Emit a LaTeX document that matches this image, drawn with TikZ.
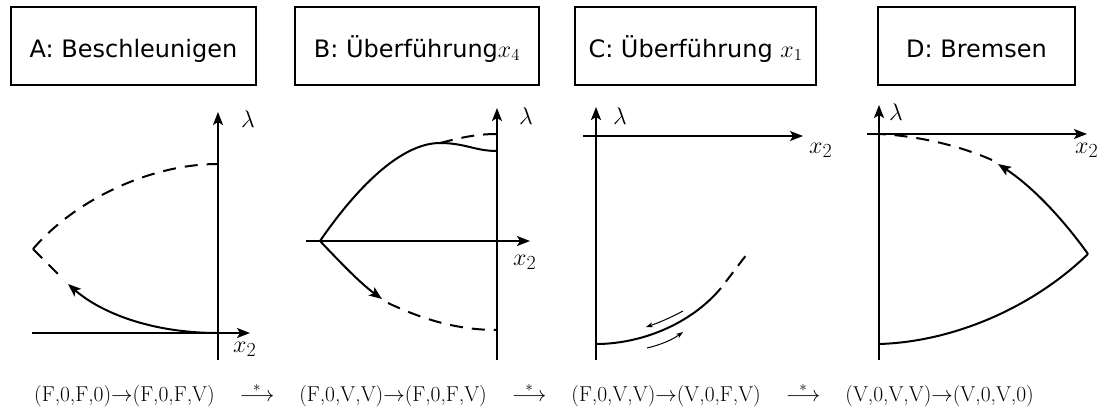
\RequirePackage{fix-cm}
\documentclass[tikz,border=0pt]{standalone}
\usepackage{fontspec}
\newfontfamily\dvs{DejaVu Sans}
\usetikzlibrary{arrows.meta}
\begin{document}
\begin{tikzpicture}[x=1pt,y=-1pt,
  axis/.style={line width=2pt,-{Stealth[length=13pt,width=10pt,inset=3pt]}},
  curve/.style={line width=2pt},
  dcurve/.style={line width=2pt,dash pattern=on 13pt off 9pt},
  arr/.style={-{Stealth[length=13pt,width=10pt,inset=3pt]}},
  box/.style={draw,line width=2pt,minimum height=78pt,text height=22pt,text depth=0pt,inner sep=0pt,font=\dvs\fontsize{24}{28}\selectfont},
  lab/.style={font=\fontsize{24}{28}\selectfont,inner sep=0pt},
  sub/.style={font=\fontsize{24}{28}\selectfont,inner sep=0pt,anchor=base west},
  small/.style={line width=1pt,-{Stealth[length=7pt,width=5pt]}},
  seqtext/.style={anchor=base west,inner sep=0pt,font=\fontsize{21.5}{26}\selectfont}
]
\useasboundingbox (0,0) rectangle (1113,418);
% boxes
\node[box,minimum width=245pt] (A) at (133.5,46) {A: Beschleunigen};
\node[box,minimum width=244pt] (B) at (417,46) {B: Überführung$x_4$};
\node[box,minimum width=241pt] (C) at (695.5,46) {C: Überführung $x_1$};
\node[box,minimum width=197pt] (D) at (976.5,46) {D: Bremsen};
% plot A
\draw[axis] (218,360) -- (218,112);
\draw[axis] (32,333) -- (250,333);
\node[lab] (lA) at (248,119) {$\lambda$};
\node[sub] (xA) at (233,352) {$x_{\mbox{\fontsize{20}{20}\selectfont 2}}$};
\draw[dcurve] (33,249) .. controls (75,200) and (150,164) .. (218,164);
\draw[dcurve] (33,249) -- (62,278);
\draw[curve,arr] (218,333) .. controls (150,333) and (100,312) .. (68,284);
% plot B
\draw[axis] (497,360) -- (497,108);
\draw[axis] (306,241) -- (530,241);
\node[lab] (lB) at (526,116) {$\lambda$};
\node[sub] (xB) at (513,265) {$x_{\mbox{\fontsize{20}{20}\selectfont 2}}$};
\draw[curve] (320,241) .. controls (355,190) and (400,143) .. (440,143) .. controls (465,143) and (475,151) .. (497,151);
\draw[dcurve] (440,143) .. controls (460,138) and (475,134) .. (497,134);
\draw[curve,arr] (320,241) .. controls (340,262) and (360,283) .. (382,299);
\draw[dcurve] (388,303) .. controls (420,318) and (455,330) .. (497,330);
% plot C
\draw[axis] (596,360) -- (596,107);
\draw[axis] (583,136) -- (803,136);
\node[lab] (lC) at (620,116) {$\lambda$};
\node[sub] (xC) at (809,153) {$x_{\mbox{\fontsize{20}{20}\selectfont 2}}$};
\draw[curve] (596,344) .. controls (640,344) and (690,325) .. (721,288);
\draw[line width=2pt,dash pattern=on 12pt off 8pt,dash phase=12pt] (721,288) -- (747,254);
\draw[small] (683,311) .. controls (670,318) and (658,323) .. (646,327);
\draw[small] (647,348) .. controls (660,345) and (672,340) .. (683,332);
% plot D
\draw[axis] (879,360) -- (879,105);
\draw[axis] (867,134) -- (1087,134);
\node[lab] (lD) at (896,112) {$\lambda$};
\node[sub] (xD) at (1075,153) {$x_{\mbox{\fontsize{20}{20}\selectfont 2}}$};
\draw[curve] (879,344) .. controls (950,342) and (1030,310) .. (1088,254);
\draw[curve,arr] (1088,254) .. controls (1060,215) and (1030,185) .. (998,164);
\draw[dcurve] (992,160) .. controls (960,146) and (920,136) .. (879,134);
% sequence
\node[seqtext] (seq) at (34,401) {(F,0,F,0)$\rightarrow$(F,0,F,V)\hspace{25pt}$\stackrel{*}{\longrightarrow}$\hspace{25pt}(F,0,V,V)$\rightarrow$(F,0,F,V)\hspace{25pt}$\stackrel{*}{\longrightarrow}$\hspace{25pt}(F,0,V,V)$\rightarrow$(V,0,F,V)\hspace{25pt}$\stackrel{*}{\longrightarrow}$\hspace{25pt}(V,0,V,V)$\rightarrow$(V,0,V,0)};
\end{tikzpicture}
\end{document}
